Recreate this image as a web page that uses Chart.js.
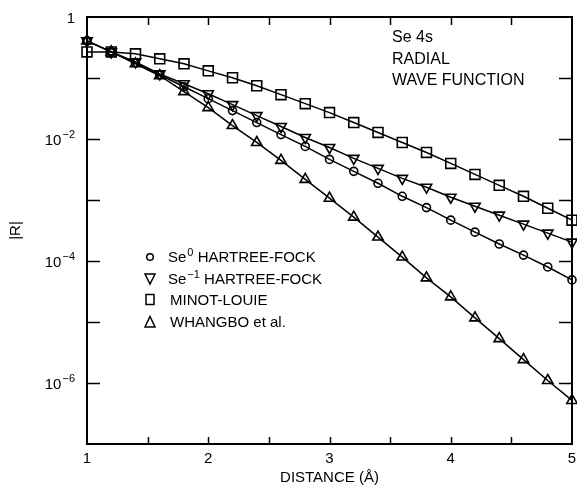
<!DOCTYPE html>
<html>
<head>
<meta charset="utf-8">
<script src="https://cdn.jsdelivr.net/npm/chart.js@4/dist/chart.umd.min.js"></script>
<style>
  html, body { margin: 0; padding: 0; background: #fff; }
  #wrap { width: 577px; height: 487px; }
</style>
</head>
<body>
<div id="wrap"><canvas id="c" width="577" height="487"></canvas></div>
<script>
// ---- data ----
const distance = [1.0, 1.2, 1.4, 1.6, 1.8, 2.0, 2.2, 2.4, 2.6, 2.8, 3.0, 3.2, 3.4, 3.6, 3.8, 4.0, 4.2, 4.4, 4.6, 4.8, 5.0];
const se0HF = [0.406, 0.268, 0.177, 0.113, 0.072, 0.0458, 0.0292, 0.0186, 0.0118, 0.00755, 0.00463, 0.00295, 0.00188, 0.00115, 0.00075, 0.000467, 0.000297, 0.00019, 0.000125, 0.0000798, 0.000049];
const seMinus1HF = [0.406, 0.268, 0.184, 0.117, 0.0805, 0.0553, 0.0366, 0.0242, 0.016, 0.0106, 0.00726, 0.00481, 0.0033, 0.00226, 0.00162, 0.00111, 0.00079, 0.000564, 0.000402, 0.000286, 0.000204];
const minotLouie = [0.268, 0.268, 0.249, 0.206, 0.171, 0.131, 0.101, 0.0747, 0.0533, 0.038, 0.0271, 0.0186, 0.0128, 0.00877, 0.00602, 0.00398, 0.00263, 0.00174, 0.00115, 0.000733, 0.000467];
const whangbo = [0.406, 0.268, 0.171, 0.109, 0.0597, 0.0327, 0.0166, 0.00877, 0.00446, 0.00218, 0.00107, 0.000523, 0.000247, 0.000116, 0.0000528, 0.0000258, 0.0000117, 0.00000533, 0.00000242, 0.0000011, 0.000000518];

const xTickValues = [1, 1.5, 2, 2.5, 3, 3.5, 4, 4.5, 5];
const xTickLabels = ['1', '', '2', '', '3', '', '4', '', '5'];
const yTickValues = [1e-7, 1e-6, 1e-5, 1e-4, 1e-3, 1e-2, 1e-1, 1];
// base and exponent for each y tick label ('' = no label)
const yTickBase = ['', '10', '', '10', '', '10', '', '1'];
const yTickExp = ['', '−6', '', '−4', '', '−2', '', ''];

const seriesNames = ['Se0 HARTREE-FOCK', 'Se-1 HARTREE-FOCK', 'MINOT-LOUIE', 'WHANGBO et al.'];
const annotationLines = ['Se 4s', 'RADIAL', 'WAVE FUNCTION'];
const xTitle = 'DISTANCE (Å)';
const yTitle = '|R|';

const FONT = "'Liberation Sans', Arial, Helvetica, sans-serif";
Chart.defaults.font.family = FONT;
Chart.defaults.color = '#000';

function pts(arr) { return distance.map((x, i) => ({ x: x, y: arr[i] })); }

const common = {
  borderColor: '#000',
  borderWidth: 1.5,
  pointBorderColor: '#000',
  pointBackgroundColor: 'rgba(0,0,0,0)',
  pointBorderWidth: 1.6,
  tension: 0,
  fill: false,
  clip: false
};

const frameAndText = {
  id: 'frameAndText',
  afterDraw(chart) {
    const ctx = chart.ctx;
    const xs = chart.scales.x, ys = chart.scales.y;
    const L = xs.left, R = xs.right, T = ys.top, B = ys.bottom;
    ctx.save();
    ctx.strokeStyle = '#000';
    ctx.lineWidth = 2;
    ctx.strokeRect(L, T, R - L, B - T);
    ctx.lineWidth = 1.5;
    ctx.beginPath();
    xTickValues.forEach(v => {
      if (v === xs.min || v === xs.max) return;
      const px = Math.round(xs.getPixelForValue(v)) + 0.5;
      ctx.moveTo(px, B); ctx.lineTo(px, B - 7);
      ctx.moveTo(px, T); ctx.lineTo(px, T + 8);
    });
    yTickValues.forEach(v => {
      if (v === ys.min || v === ys.max) return;
      const py = Math.round(ys.getPixelForValue(v)) + 0.5;
      ctx.moveTo(L, py); ctx.lineTo(L + 13, py);
      ctx.moveTo(R, py); ctx.lineTo(R - 13, py);
    });
    ctx.stroke();

    ctx.fillStyle = '#000';
    ctx.textBaseline = 'alphabetic';

    // y tick labels with real superscripts
    yTickValues.forEach((v, i) => {
      if (!yTickBase[i]) return;
      const py = ys.getPixelForValue(v);
      const base = py + 5.5;
      ctx.font = '15px ' + FONT;
      const bw = ctx.measureText(yTickBase[i]).width;
      ctx.font = '11px ' + FONT;
      const ew = yTickExp[i] ? ctx.measureText(yTickExp[i]).width + 1 : 0;
      const right = 75;
      ctx.textAlign = 'left';
      ctx.font = '15px ' + FONT;
      ctx.fillText(yTickBase[i], right - ew - bw, base);
      if (yTickExp[i]) {
        ctx.font = '11px ' + FONT;
        ctx.fillText(yTickExp[i], right - ew + 1, base - 7);
      }
    });

    // annotation
    ctx.font = '16px ' + FONT;
    ctx.textAlign = 'left';
    const ax = 392;
    [42, 64, 85].forEach((by, i) => ctx.fillText(annotationLines[i], ax, by));

    // legend
    const lx = 150, tx = 168;
    const rows = [262, 283.5, 305, 326.5];
    ctx.lineWidth = 1.5;
    function drawSup(base, sup, rest, y) {
      let x = tx;
      ctx.font = '15px ' + FONT;
      ctx.fillText(base, x, y); x += ctx.measureText(base).width + 1;
      ctx.font = '11px ' + FONT;
      ctx.fillText(sup, x, y - 6); x += ctx.measureText(sup).width;
      ctx.font = '15px ' + FONT;
      ctx.fillText(rest, x, y);
    }
    drawSup('Se', '0', ' HARTREE-FOCK', rows[0]);
    drawSup('Se', '−1', ' HARTREE-FOCK', rows[1]);
    ctx.font = '15px ' + FONT;
    ctx.fillText(seriesNames[2], tx + 2, rows[2]);
    ctx.fillText(seriesNames[3], tx + 2, rows[3]);
    ctx.beginPath();
    ctx.arc(lx, rows[0] - 5, 3.3, 0, Math.PI * 2);
    ctx.stroke();
    let cy = rows[1] - 5;
    ctx.beginPath();
    ctx.moveTo(lx - 5, cy - 4.5); ctx.lineTo(lx + 5, cy - 4.5); ctx.lineTo(lx, cy + 5.5); ctx.closePath();
    ctx.stroke();
    cy = rows[2] - 5.5;
    ctx.strokeRect(lx - 4, cy - 5, 8, 10);
    cy = rows[3] - 5;
    ctx.beginPath();
    ctx.moveTo(lx - 5, cy + 5.5); ctx.lineTo(lx + 5, cy + 5.5); ctx.lineTo(lx, cy - 5); ctx.closePath();
    ctx.stroke();
    ctx.restore();
  }
};

new Chart(document.getElementById('c'), {
  type: 'line',
  data: {
    datasets: [
      Object.assign({}, common, { label: seriesNames[0], data: pts(se0HF), pointStyle: 'circle', pointRadius: 4, pointHoverRadius: 4 }),
      Object.assign({}, common, { label: seriesNames[1], data: pts(seMinus1HF), pointStyle: 'triangle', pointRotation: 180, pointRadius: 6, pointHoverRadius: 6 }),
      Object.assign({}, common, { label: seriesNames[2], data: pts(minotLouie), pointStyle: 'rect', pointRadius: 7, pointHoverRadius: 7 }),
      Object.assign({}, common, { label: seriesNames[3], data: pts(whangbo), pointStyle: 'triangle', pointRadius: 6, pointHoverRadius: 6 })
    ]
  },
  options: {
    responsive: false,
    animation: false,
    devicePixelRatio: 1,
    layout: { autoPadding: false, padding: { top: 17, right: 5, left: 0, bottom: 0 } },
    plugins: { legend: { display: false }, tooltip: { enabled: false } },
    scales: {
      x: {
        type: 'linear',
        min: 1, max: 5,
        grid: { display: false, drawTicks: false },
        border: { display: false },
        afterBuildTicks(scale) { scale.ticks = xTickValues.map(v => ({ value: v })); },
        afterFit(scale) { scale.height = 43; scale.paddingLeft = 0; scale.paddingRight = 0; },
        ticks: {
          autoSkip: false, maxRotation: 0, padding: 6,
          font: { size: 15 },
          callback(value) { const i = xTickValues.indexOf(value); return i >= 0 ? xTickLabels[i] : ''; }
        },
        title: { display: true, text: xTitle, font: { size: 15 }, padding: { top: 0, bottom: 0 } }
      },
      y: {
        type: 'logarithmic',
        min: 1e-7, max: 1,
        grid: { display: false, drawTicks: false },
        border: { display: false },
        afterBuildTicks(scale) { scale.ticks = yTickValues.map(v => ({ value: v })); },
        afterFit(scale) { scale.width = 87; scale.paddingTop = 0; scale.paddingBottom = 0; },
        ticks: { display: false },
        title: { display: true, text: yTitle, font: { size: 15 }, padding: { top: 7, bottom: 0 } }
      }
    }
  },
  plugins: [frameAndText]
});
</script>
</body>
</html>
